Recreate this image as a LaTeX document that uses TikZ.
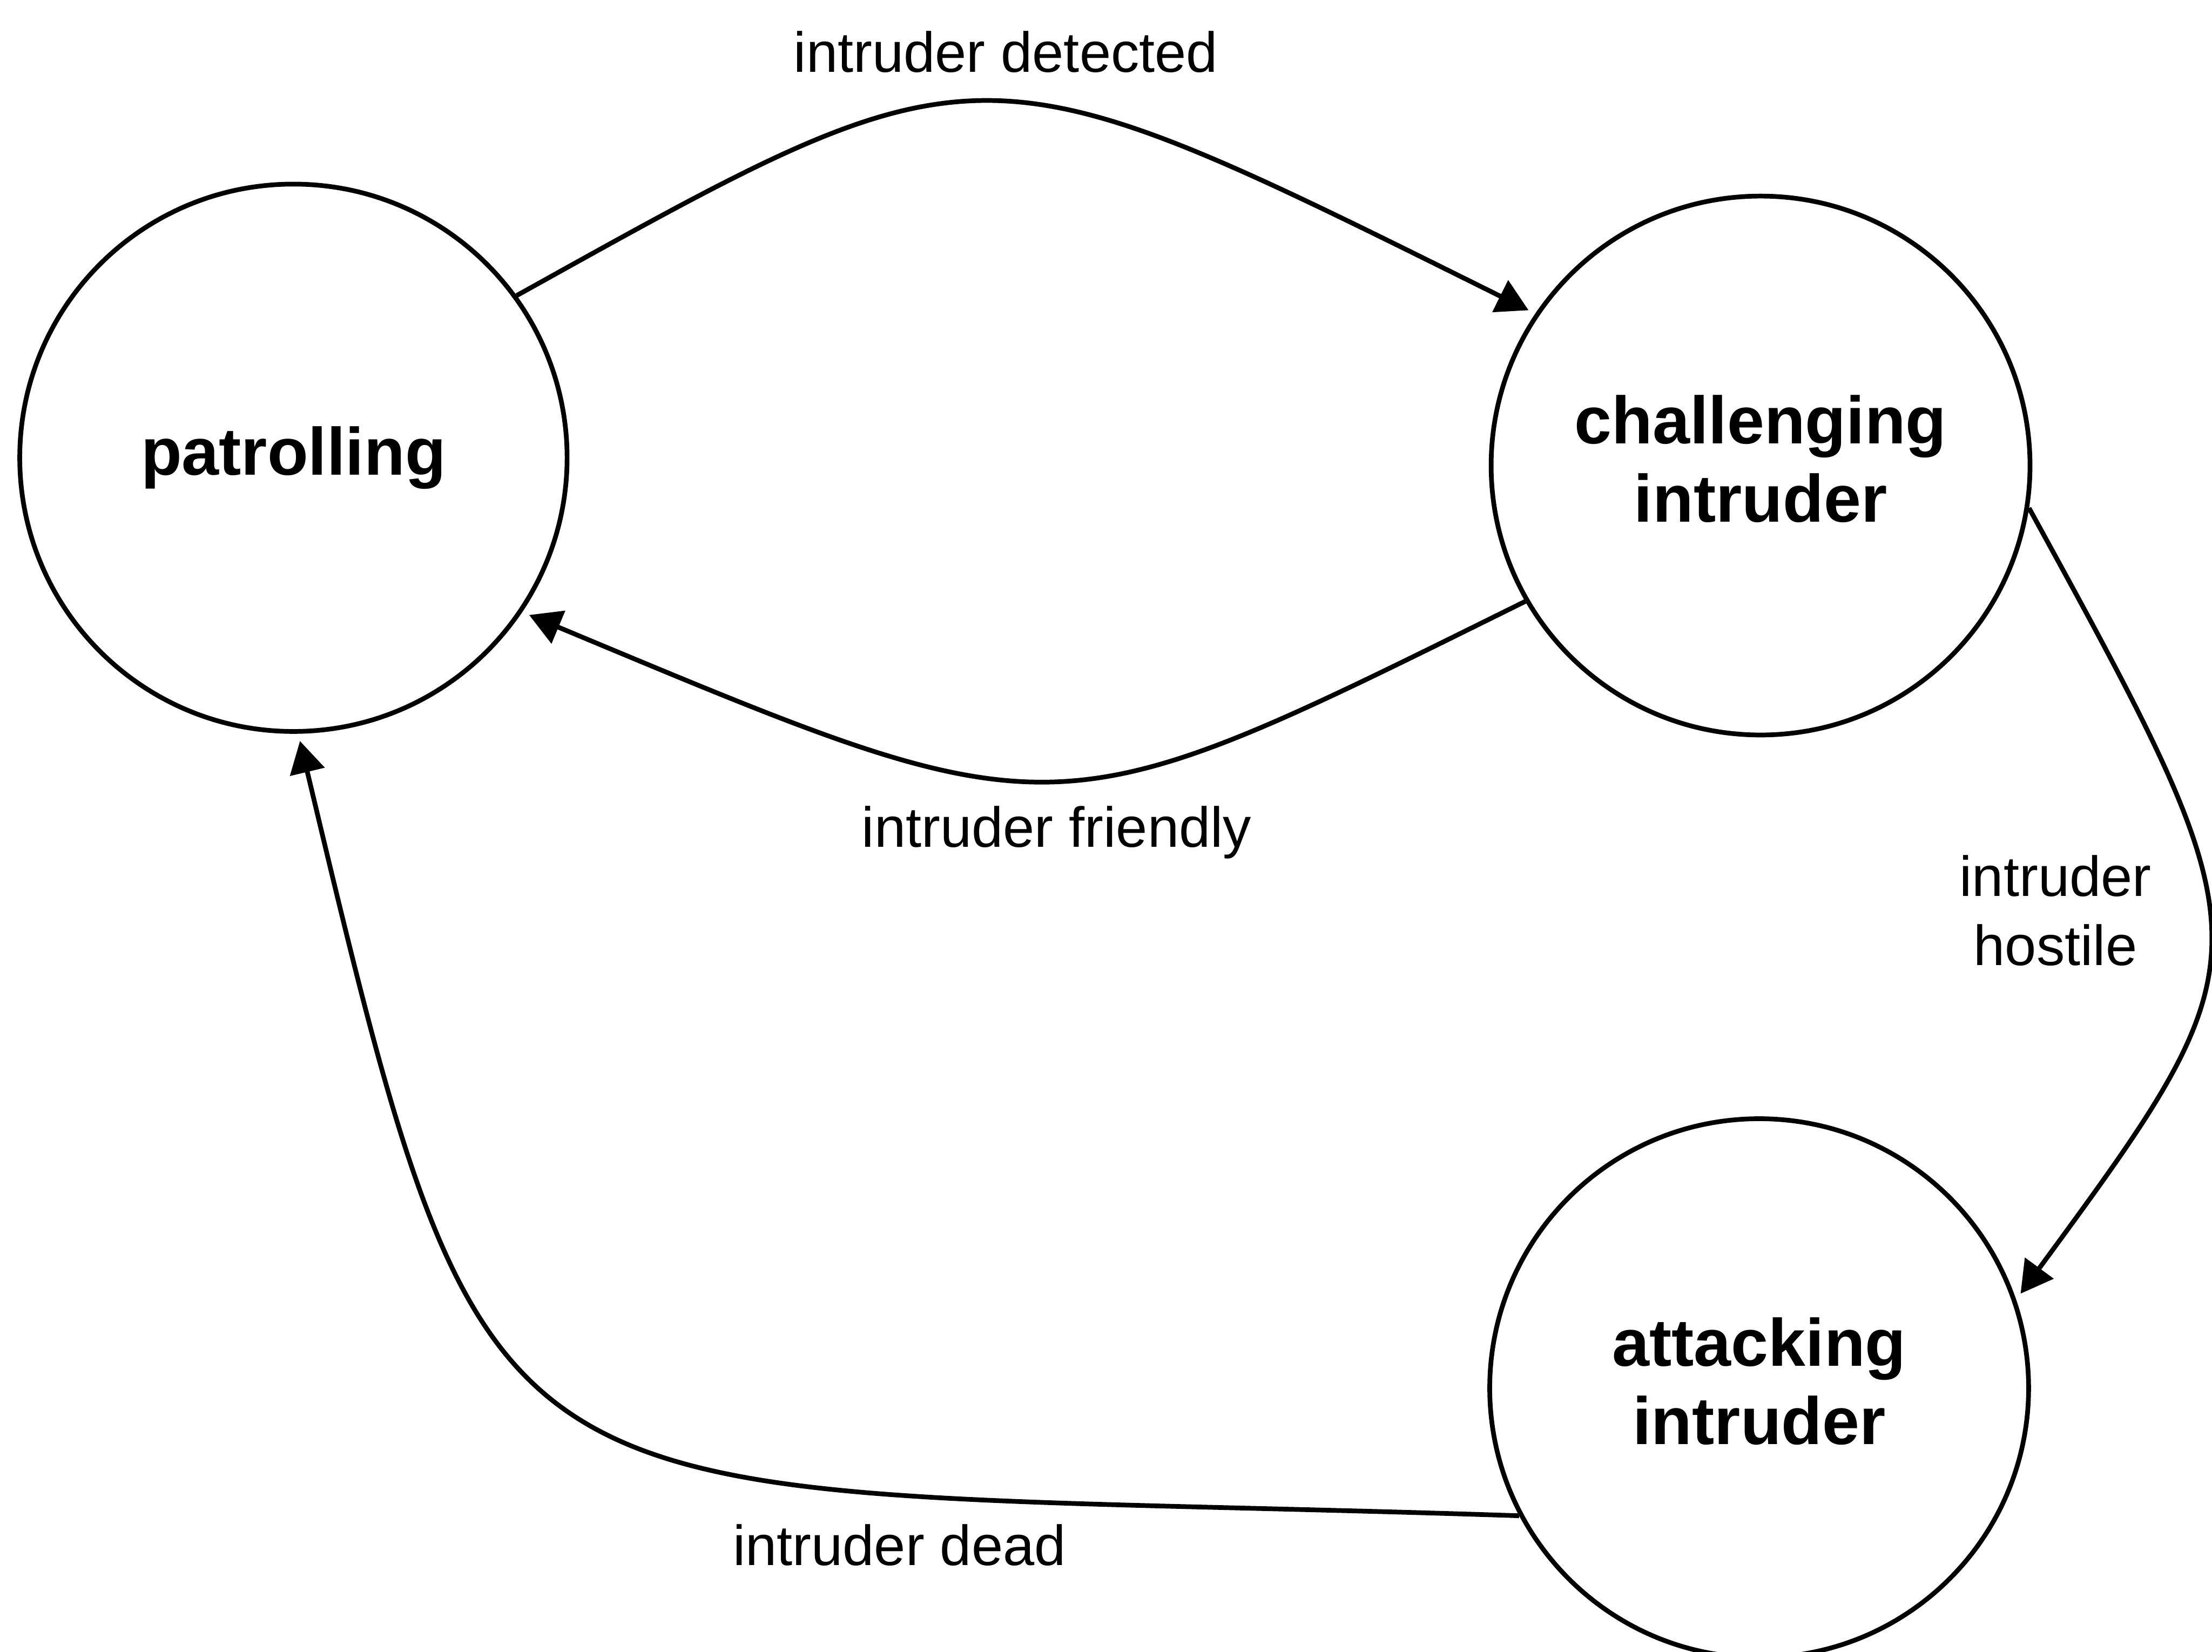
\documentclass[tikz,border=0pt]{standalone}
\usepackage{fontspec}
\setmainfont{Liberation Sans}
\usetikzlibrary{arrows.meta}
\newcommand\statefont{\fontsize{13.5pt}{15.76pt}\selectfont\bfseries}
\newcommand\edgefont{\fontsize{11.4pt}{13.86pt}\selectfont}
\begin{document}
\begin{tikzpicture}[x=0.1mm, y=-0.1mm,
  state/.style={circle, draw, line width=0.95pt, inner sep=0pt, align=center, font=\statefont},
  trans/.style={line width=0.95pt, -{Triangle[length=6.4pt,width=7pt]}, shorten >=1.5pt},
  edgelabel/.style={inner sep=0pt, font=\edgefont}]
\useasboundingbox (0,0) rectangle (1568,1171);

% states
\node[state, minimum size=38.8mm] (pat) at (208,324.5) {patrolling};
\node[state, minimum size=38.2mm, text depth=1mm] (chal) at (1248,330) {challenging\\intruder};
\node[state, minimum size=38.2mm, text depth=1mm] (att) at (1247,984) {attacking\\intruder};

% transitions
\draw[trans] (pat.36.5) .. controls (698,25) and (691,25) .. (chal.146.5);
\draw[trans] (chal.210.2) .. controls (742,594) and (754,594) .. (pat.326.6);
\draw[trans] (chal.351.8) .. controls (1610,673) and (1610,675) .. (att.19.1);
\draw[trans] (att.208.7) .. controls (339,1050) and (352,1109) .. (pat.271);

% transition labels
\node[edgelabel, anchor=base] (ldet) at (713,51) {intruder detected};
\node[edgelabel, anchor=base] (lfri) at (749,600.6) {intruder friendly};
\node[edgelabel, anchor=base] (ldead) at (637.6,1109.5) {intruder dead};
\node[edgelabel, align=center] (lhos) at (1457,645.5) {intruder\\hostile};
\end{tikzpicture}
\end{document}
